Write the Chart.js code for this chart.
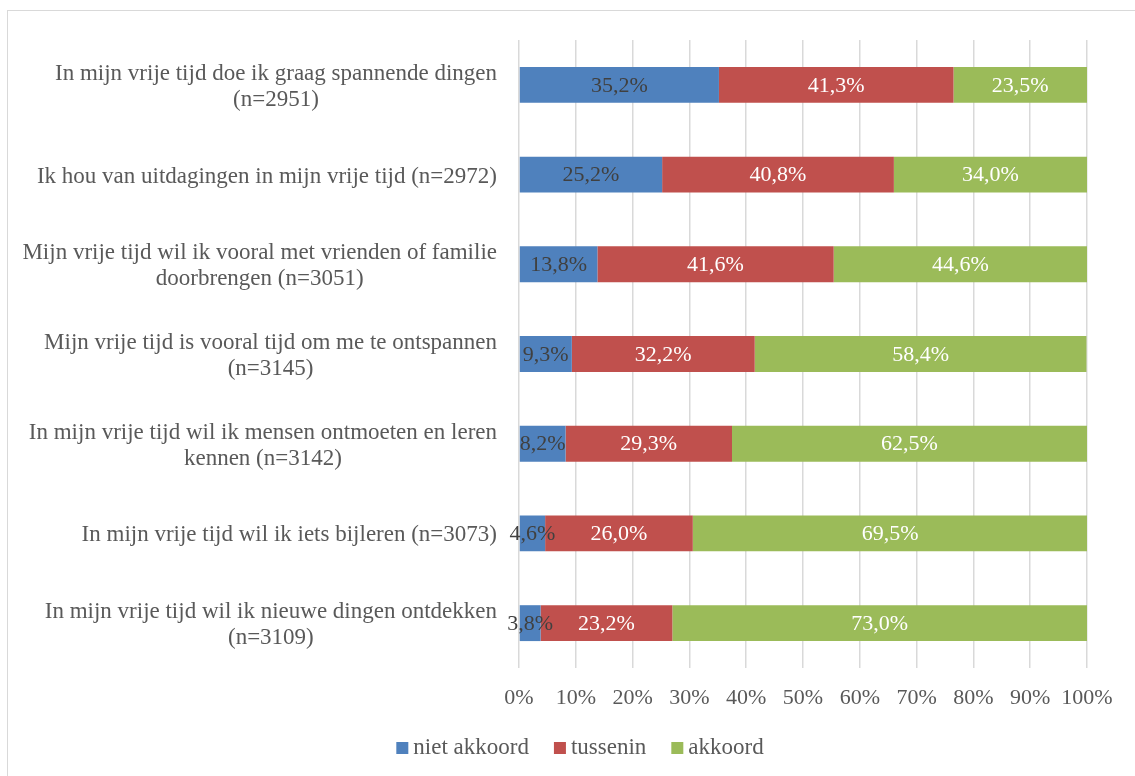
<!DOCTYPE html>
<html>
<head>
<meta charset="utf-8">
<script src="https://cdn.jsdelivr.net/npm/chart.js@4/dist/chart.umd.min.js"></script>
<style>
  html, body { margin: 0; padding: 0; background: #ffffff; overflow: hidden; }
  #frame {
    position: absolute; left: 7px; top: 10px;
    width: 1135px; height: 770px;
    border: 1px solid #d9d9d9; background: #ffffff;
  }
  canvas { display: block; }
</style>
</head>
<body>
<div id="frame"><canvas id="chart" width="1135" height="770"></canvas></div>
<script>
// Statements (each wrapped over one or two lines)
const categories = [
  ["In mijn vrije tijd doe ik graag spannende dingen", "(n=2951)"],
  ["Ik hou van uitdagingen in mijn vrije tijd (n=2972)"],
  ["Mijn vrije tijd wil ik vooral met vrienden of familie", "doorbrengen (n=3051)"],
  ["Mijn vrije tijd is vooral tijd om me te ontspannen", "(n=3145)"],
  ["In mijn vrije tijd wil ik mensen ontmoeten en leren", "kennen (n=3142)"],
  ["In mijn vrije tijd wil ik iets bijleren (n=3073)"],
  ["In mijn vrije tijd wil ik nieuwe dingen ontdekken", "(n=3109)"]
];

// Shares per answer (percent)
const nietAkkoord = [35.2, 25.2, 13.8, 9.3, 8.2, 4.6, 3.8];
const tussenin    = [41.3, 40.8, 41.6, 32.2, 29.3, 26.0, 23.2];
const akkoord     = [23.5, 34.0, 44.6, 58.4, 62.5, 69.5, 73.0];

const seriesNames = ["niet akkoord", "tussenin", "akkoord"];
const xTickStep = 10;

const SERIF = "'Liberation Serif', 'Times New Roman', serif";
const AXIS_COLOR = "#595959";
const seriesColors = ["#4F81BD", "#C0504D", "#9BBB59"];
const labelColors = ["#404040", "#ffffff", "#ffffff"];

const fmt = v => v.toFixed(1).replace(".", ",") + "%";

// Category labels: lines centred on each other, block right-aligned to the axis
const categoryLabels = {
  id: "categoryLabels",
  afterDraw(chart) {
    const ctx = chart.ctx;
    const y = chart.scales.y;
    const right = chart.chartArea.left - 22;
    const lh = 26;
    ctx.save();
    ctx.font = "23px " + SERIF;
    ctx.fillStyle = AXIS_COLOR;
    ctx.textAlign = "center";
    ctx.textBaseline = "middle";
    categories.forEach((lines, i) => {
      const cy = y.getPixelForValue(i) + 2;
      const w = Math.max(...lines.map(l => ctx.measureText(l).width));
      const cx = right - w / 2;
      lines.forEach((l, k) => {
        ctx.fillText(l, cx, cy + (k - (lines.length - 1) / 2) * lh);
      });
    });
    ctx.restore();
  }
};

// Value labels centred in each segment
const segmentLabels = {
  id: "segmentLabels",
  afterDatasetsDraw(chart) {
    const ctx = chart.ctx;
    ctx.save();
    ctx.font = "22px " + SERIF;
    ctx.textAlign = "center";
    ctx.textBaseline = "middle";
    chart.data.datasets.forEach((ds, i) => {
      const meta = chart.getDatasetMeta(i);
      ctx.fillStyle = labelColors[i];
      meta.data.forEach((bar, j) => {
        const cx = (bar.x + bar.base) / 2;
        ctx.fillText(fmt(ds.data[j]), cx, bar.y + 1);
      });
    });
    ctx.restore();
  }
};

// Legend row under the axis
const bottomLegend = {
  id: "bottomLegend",
  afterDraw(chart) {
    const ctx = chart.ctx;
    const box = 12, gapText = 5, gapItem = 25;
    ctx.save();
    ctx.font = "23px " + SERIF;
    const widths = seriesNames.map(n => box + gapText + ctx.measureText(n).width);
    const total = widths.reduce((a, b) => a + b, 0) + gapItem * (seriesNames.length - 1);
    let x = chart.width / 2 + 4.5 - total / 2;
    const baseline = 743;
    ctx.textBaseline = "alphabetic";
    ctx.textAlign = "left";
    seriesNames.forEach((n, i) => {
      ctx.fillStyle = seriesColors[i];
      ctx.fillRect(x, baseline - box, box, box);
      ctx.fillStyle = AXIS_COLOR;
      ctx.fillText(n, x + box + gapText, baseline);
      x += widths[i] + gapItem;
    });
    ctx.restore();
  }
};

new Chart(document.getElementById("chart"), {
  type: "bar",
  data: {
    labels: categories,
    datasets: [
      { label: seriesNames[0], data: nietAkkoord, backgroundColor: seriesColors[0] },
      { label: seriesNames[1], data: tussenin,    backgroundColor: seriesColors[1] },
      { label: seriesNames[2], data: akkoord,     backgroundColor: seriesColors[2] }
    ]
  },
  options: {
    responsive: false,
    animation: false,
    indexAxis: "y",
    categoryPercentage: 0.4,
    barPercentage: 1,
    layout: { padding: { top: 29, right: 56, left: 0, bottom: 0 } },
    plugins: {
      legend: { display: false },
      tooltip: { enabled: false }
    },
    scales: {
      x: {
        stacked: true,
        min: 0,
        max: 100,
        ticks: {
          stepSize: xTickStep,
          callback: v => v + "%",
          color: AXIS_COLOR,
          font: { family: SERIF, size: 22 },
          padding: 17,
          maxRotation: 0
        },
        grid: { color: "#d9d9d9", lineWidth: 1.5, drawTicks: false },
        border: { display: false },
        afterFit: s => { s.height = 113; }
      },
      y: {
        stacked: true,
        ticks: { display: false },
        grid: { display: false },
        border: { display: false },
        afterFit: s => { s.width = 511; }
      }
    }
  },
  plugins: [categoryLabels, segmentLabels, bottomLegend]
});
</script>
</body>
</html>
